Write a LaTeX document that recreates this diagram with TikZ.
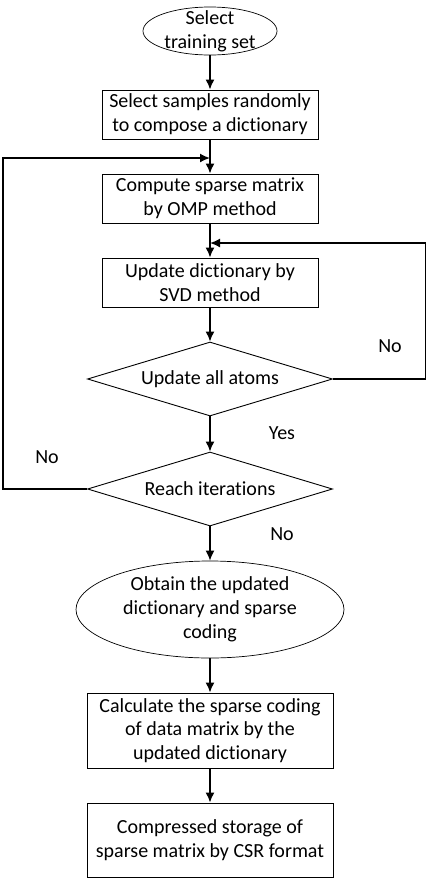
\documentclass[tikz,border=0pt]{standalone}
\usepackage{fontspec}
\setmainfont{Carlito}[Ligatures=NoCommon]
\usetikzlibrary{arrows, arrows.meta, shapes.geometric, calc, positioning}
\tikzset{
    flowText/.style={font=\fontsize{20}{23.8}\selectfont, align=center},
    stepBox/.style={rectangle, draw, line width=0.9pt, inner sep=0pt, flowText},
    termNode/.style={ellipse, draw, line width=0.7pt, inner sep=0pt},
    testNode/.style={diamond, draw, line width=0.9pt, inner sep=0pt, aspect=3.3, minimum width=245, minimum height=74, flowText},
    flowEdge/.style={-{Latex[length=10pt, width=9pt]}, line width=1.6pt},
    flowLine/.style={line width=1.6pt},
}
\newcommand{\flowLink}[2]{
    \draw[flowEdge] (#1) -- (#2);
}

\begin{document}
\begin{tikzpicture}[x=1pt, y=-1pt]
    \useasboundingbox (0, 0) rectangle (427, 879);

    \node[termNode, minimum width=134, minimum height=48, label={[flowText]center:Select\\training set}] (start) at (210, 31) {};
    \node[stepBox, minimum width=216, minimum height=49] (sel) at (210, 114.5) {Select samples randomly\\to compose a dictionary};
    \node[stepBox, minimum width=216, minimum height=49] (omp) at (210, 198.5) {Compute sparse matrix\\by OMP method};
    \node[stepBox, minimum width=216, minimum height=49] (svd) at (210, 282.5) {Update dictionary by\\SVD method};
    \node[testNode] (atoms) at (210, 379) {Update all atoms};
    \node[testNode] (iter) at (210, 489) {Reach iterations};
    \node[termNode, minimum width=268, minimum height=97, label={[flowText]center:Obtain the updated\\dictionary and sparse\\coding}] (done) at (210, 609.5) {};
    \node[stepBox, minimum width=246, minimum height=75] (code) at (210, 730.5) {Calculate the sparse coding\\of data matrix by the\\updated dictionary};
    \node[stepBox, minimum width=246, minimum height=74] (csr) at (210, 840) {Compressed storage of\\sparse matrix by CSR format};

    \coordinate (joinA) at (210, 158);
    \coordinate (joinB) at (210, 243);
    \coordinate (cornerA) at (3, 489);
    \coordinate (cornerB) at (425.5, 379);

    \flowLink{start}{sel}
    \flowLink{sel}{omp}
    \flowLink{omp}{svd}
    \flowLink{svd}{atoms}
    \flowLink{atoms}{iter}
    \flowLink{iter}{done}
    \flowLink{done}{code}
    \flowLink{code}{csr}

    % loops back
    \draw[flowEdge] (iter.west) -- (cornerA) |- (joinA);
    \draw[flowEdge] (atoms.east) -- (cornerB) |- (joinB);

    \node[flowText] (noB) at (390, 346) {No};
    \node[flowText] (yesA) at (282, 433) {Yes};
    \node[flowText] (noA) at (47, 457) {No};
    \node[flowText] (noC) at (282, 534) {No};

\end{tikzpicture}
\end{document}
